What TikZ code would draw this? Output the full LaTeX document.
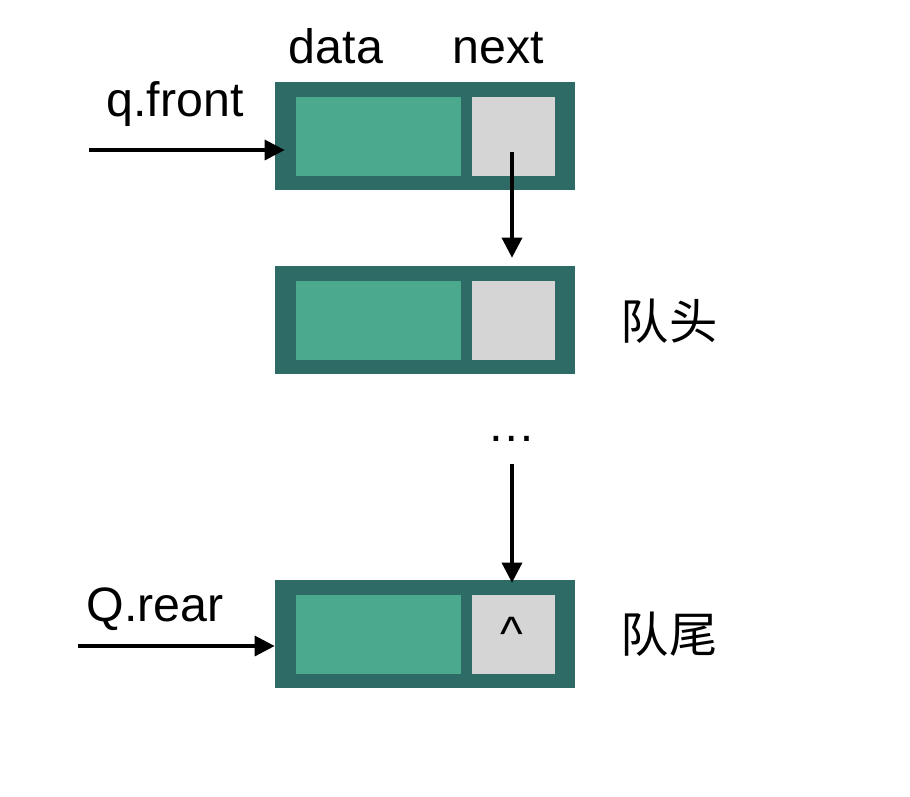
\documentclass[tikz,border=0pt]{standalone}
\usepackage{fontspec}
\setmainfont{Liberation Sans}
\newfontfamily\cjk{Noto Sans CJK SC}
\usepackage{xcolor}
\usetikzlibrary{calc,positioning,arrows.meta}

\definecolor{boxteal}{HTML}{2E6B66}
\definecolor{datagreen}{HTML}{4BA98E}
\definecolor{nextgray}{HTML}{D5D5D5}

\begin{document}
\begin{tikzpicture}[x=0.02cm,y=-0.02cm,
    qnode/.style={fill=boxteal, minimum width=6cm, minimum height=2.16cm, inner sep=0pt},
    datafield/.style={fill=datagreen, minimum width=3.3cm, minimum height=1.58cm, inner sep=0pt},
    nextfield/.style={fill=nextgray, minimum width=1.66cm, minimum height=1.58cm, inner sep=0pt},
    lbl/.style={font=\fontsize{27.5}{33}\selectfont, inner sep=0pt},
    cjklbl/.style={font=\cjk\fontsize{27.5}{33}\selectfont, inner sep=0pt},
    ptr/.style={line width=1.9pt, -{Triangle[length=0.4cm,width=0.4cm]}}]
        \useasboundingbox (0,0) rectangle (910,796);

        % Queue nodes
        \node[qnode] (n1) at (425,136) {};
        \node[datafield] (d1) at (378.5,136.5) {};
        \node[nextfield] (x1) at (513.5,136.5) {};

        \node[qnode] (n2) at (425,320) {};
        \node[datafield] (d2) at (378.5,320.5) {};
        \node[nextfield] (x2) at (513.5,320.5) {};

        \node[qnode] (n3) at (425,634) {};
        \node[datafield] (d3) at (378.5,634.5) {};
        \node[nextfield] (x3) at (513.5,634.5) {};
        \node[lbl, anchor=base] (nil) at (512,650) {\textasciicircum};

        % Field headers
        \node[lbl, anchor=base] (hdata) at (336,63) {data};
        \node[lbl, anchor=base] (hnext) at (498,63) {next};

        % Pointers
        \node[lbl, anchor=base] (front) at (175,116) {q.front};
        \coordinate (fronttail) at (89,150);
        \draw[ptr] (fronttail) -- ([xshift=0.2cm]n1.west |- fronttail);

        \node[lbl, anchor=base] (rear) at (155,621) {Q.rear};
        \coordinate (reartail) at (78,646);
        \draw[ptr] (reartail) -- (n3.west |- reartail);

        \coordinate (link) at (512,152);
        \draw[ptr, shorten >=0.16cm] (link) -- (n2.north -| link);

        \node[lbl] (dots) at (512,439) {\dots};
        \draw[ptr, shorten >=-0.06cm] ([yshift=-0.5cm]dots.center) -- (n3.north -| dots.center);

        % Labels
        \node[cjklbl] (head) at (669,321) {队头};
        \node[cjklbl] (tail) at (669,634) {队尾};
\end{tikzpicture}
\end{document}
